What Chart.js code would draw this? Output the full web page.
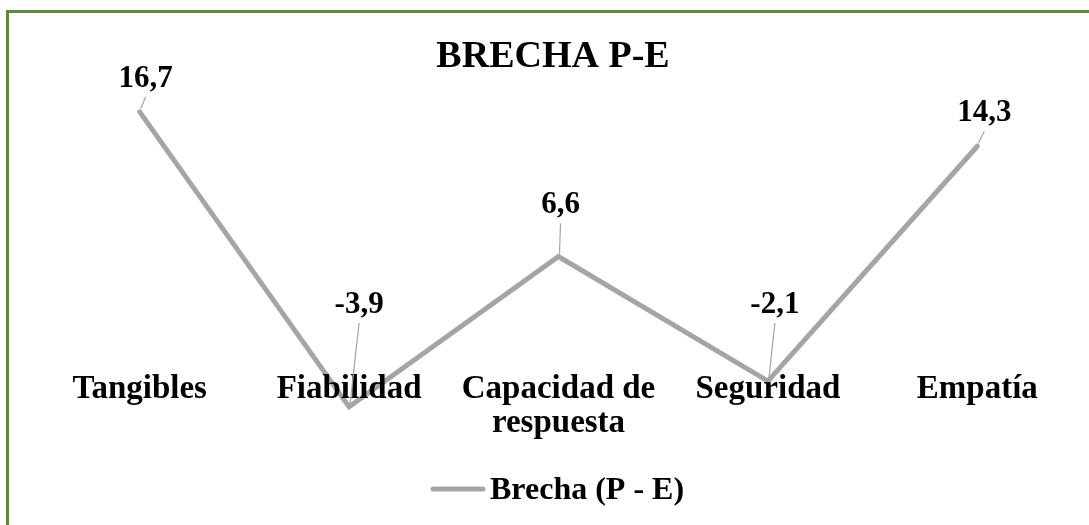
<!DOCTYPE html>
<html>
<head>
<meta charset="utf-8">
<script src="https://cdn.jsdelivr.net/npm/chart.js@4/dist/chart.umd.min.js"></script>
<style>
  html, body { margin: 0; padding: 0; background: #fff; }
  #wrap { position: relative; width: 1089px; height: 525px; }
</style>
</head>
<body>
<div id="wrap"><canvas id="chart" width="1089" height="525"></canvas></div>
<script>
// ── Data ─────────────────────────────────────────────────
const categories  = [['Tangibles'], ['Fiabilidad'], ['Capacidad de', 'respuesta'], ['Seguridad'], ['Empatía']];
const brechaVals  = [16.7, -3.9, 6.6, -2.1, 14.3];
const seriesName  = 'Brecha (P - E)';
const chartTitle  = 'BRECHA P-E';

// ── Style ────────────────────────────────────────────────
const SERIF     = '"Liberation Serif", "Times New Roman", serif';
const LINE_GRAY = '#a5a5a5';
const FRAME     = '#5b8b3c';
// label offsets (baseline) from each point, as placed by hand in the original
const labelOffsets = [[6, -25], [10, -94], [2, -43], [7, -68], [7, -25]];

const fmt = v => v.toFixed(1).replace('.', ',');

const decorPlugin = {
    id: 'decor',
    beforeDraw(chart) {
        const ctx = chart.ctx;
        ctx.save();
        ctx.strokeStyle = FRAME;
        ctx.lineWidth = 3;
        ctx.beginPath();
        ctx.moveTo(7.5, 600);
        ctx.lineTo(7.5, 11.5);
        ctx.lineTo(1200, 11.5);
        ctx.stroke();
        ctx.restore();
    },
    afterDraw(chart) {
        const ctx = chart.ctx;
        const xs = chart.scales.x, ys = chart.scales.y;
        const meta = chart.getDatasetMeta(0);
        ctx.save();

        // title
        ctx.fillStyle = '#000';
        ctx.font = `bold 38px ${SERIF}`;
        ctx.textAlign = 'center';
        ctx.textBaseline = 'alphabetic';
        ctx.fillText(chartTitle, 553, 67);

        // category labels, hung under the zero line
        const zeroY = ys.getPixelForValue(0);
        ctx.font = `bold 33px ${SERIF}`;
        categories.forEach((lines, i) => {
            const x = xs.getPixelForValue(i);
            lines.forEach((t, j) => ctx.fillText(t, x, zeroY + 47 + j * 34));
        });

        // data labels + leader lines
        ctx.font = `bold 31px ${SERIF}`;
        meta.data.forEach((pt, i) => {
            const [dx, dy] = labelOffsets[i];
            const lx = pt.x + dx, ly = pt.y + dy;
            ctx.fillStyle = '#000';
            ctx.fillText(fmt(brechaVals[i]), lx, ly);
            ctx.strokeStyle = LINE_GRAY;
            ctx.lineWidth = 1.2;
            ctx.beginPath();
            ctx.moveTo(lx, ly + 10);
            ctx.lineTo(pt.x + 1, pt.y - 3);
            ctx.stroke();
        });

        // legend
        ctx.strokeStyle = LINE_GRAY;
        ctx.lineWidth = 5;
        ctx.lineCap = 'round';
        ctx.beginPath();
        ctx.moveTo(433, 489);
        ctx.lineTo(483, 489);
        ctx.stroke();
        ctx.fillStyle = '#000';
        ctx.textAlign = 'left';
        ctx.font = `bold 32px ${SERIF}`;
        ctx.fillText(seriesName, 490, 499);

        ctx.restore();
    }
};

new Chart(document.getElementById('chart'), {
    type: 'line',
    data: {
        labels: categories.map(c => c.join(' ')),
        datasets: [{
            label: seriesName,
            data: brechaVals,
            borderColor: LINE_GRAY,
            borderWidth: 5,
            borderCapStyle: 'round',
            borderJoinStyle: 'miter',
            pointRadius: 0,
            tension: 0,
            fill: false,
        }],
    },
    options: {
        responsive: false,
        animation: false,
        devicePixelRatio: 1,
        layout: { padding: { top: 60, bottom: 65, left: 35, right: 7 } },
        plugins: {
            legend: { display: false },
            title: { display: false },
            tooltip: { enabled: false },
        },
        scales: {
            x: { type: 'category', offset: true, display: false },
            y: { min: -7.61, max: 20.32, display: false },
        },
    },
    plugins: [decorPlugin],
});
</script>
</body>
</html>
